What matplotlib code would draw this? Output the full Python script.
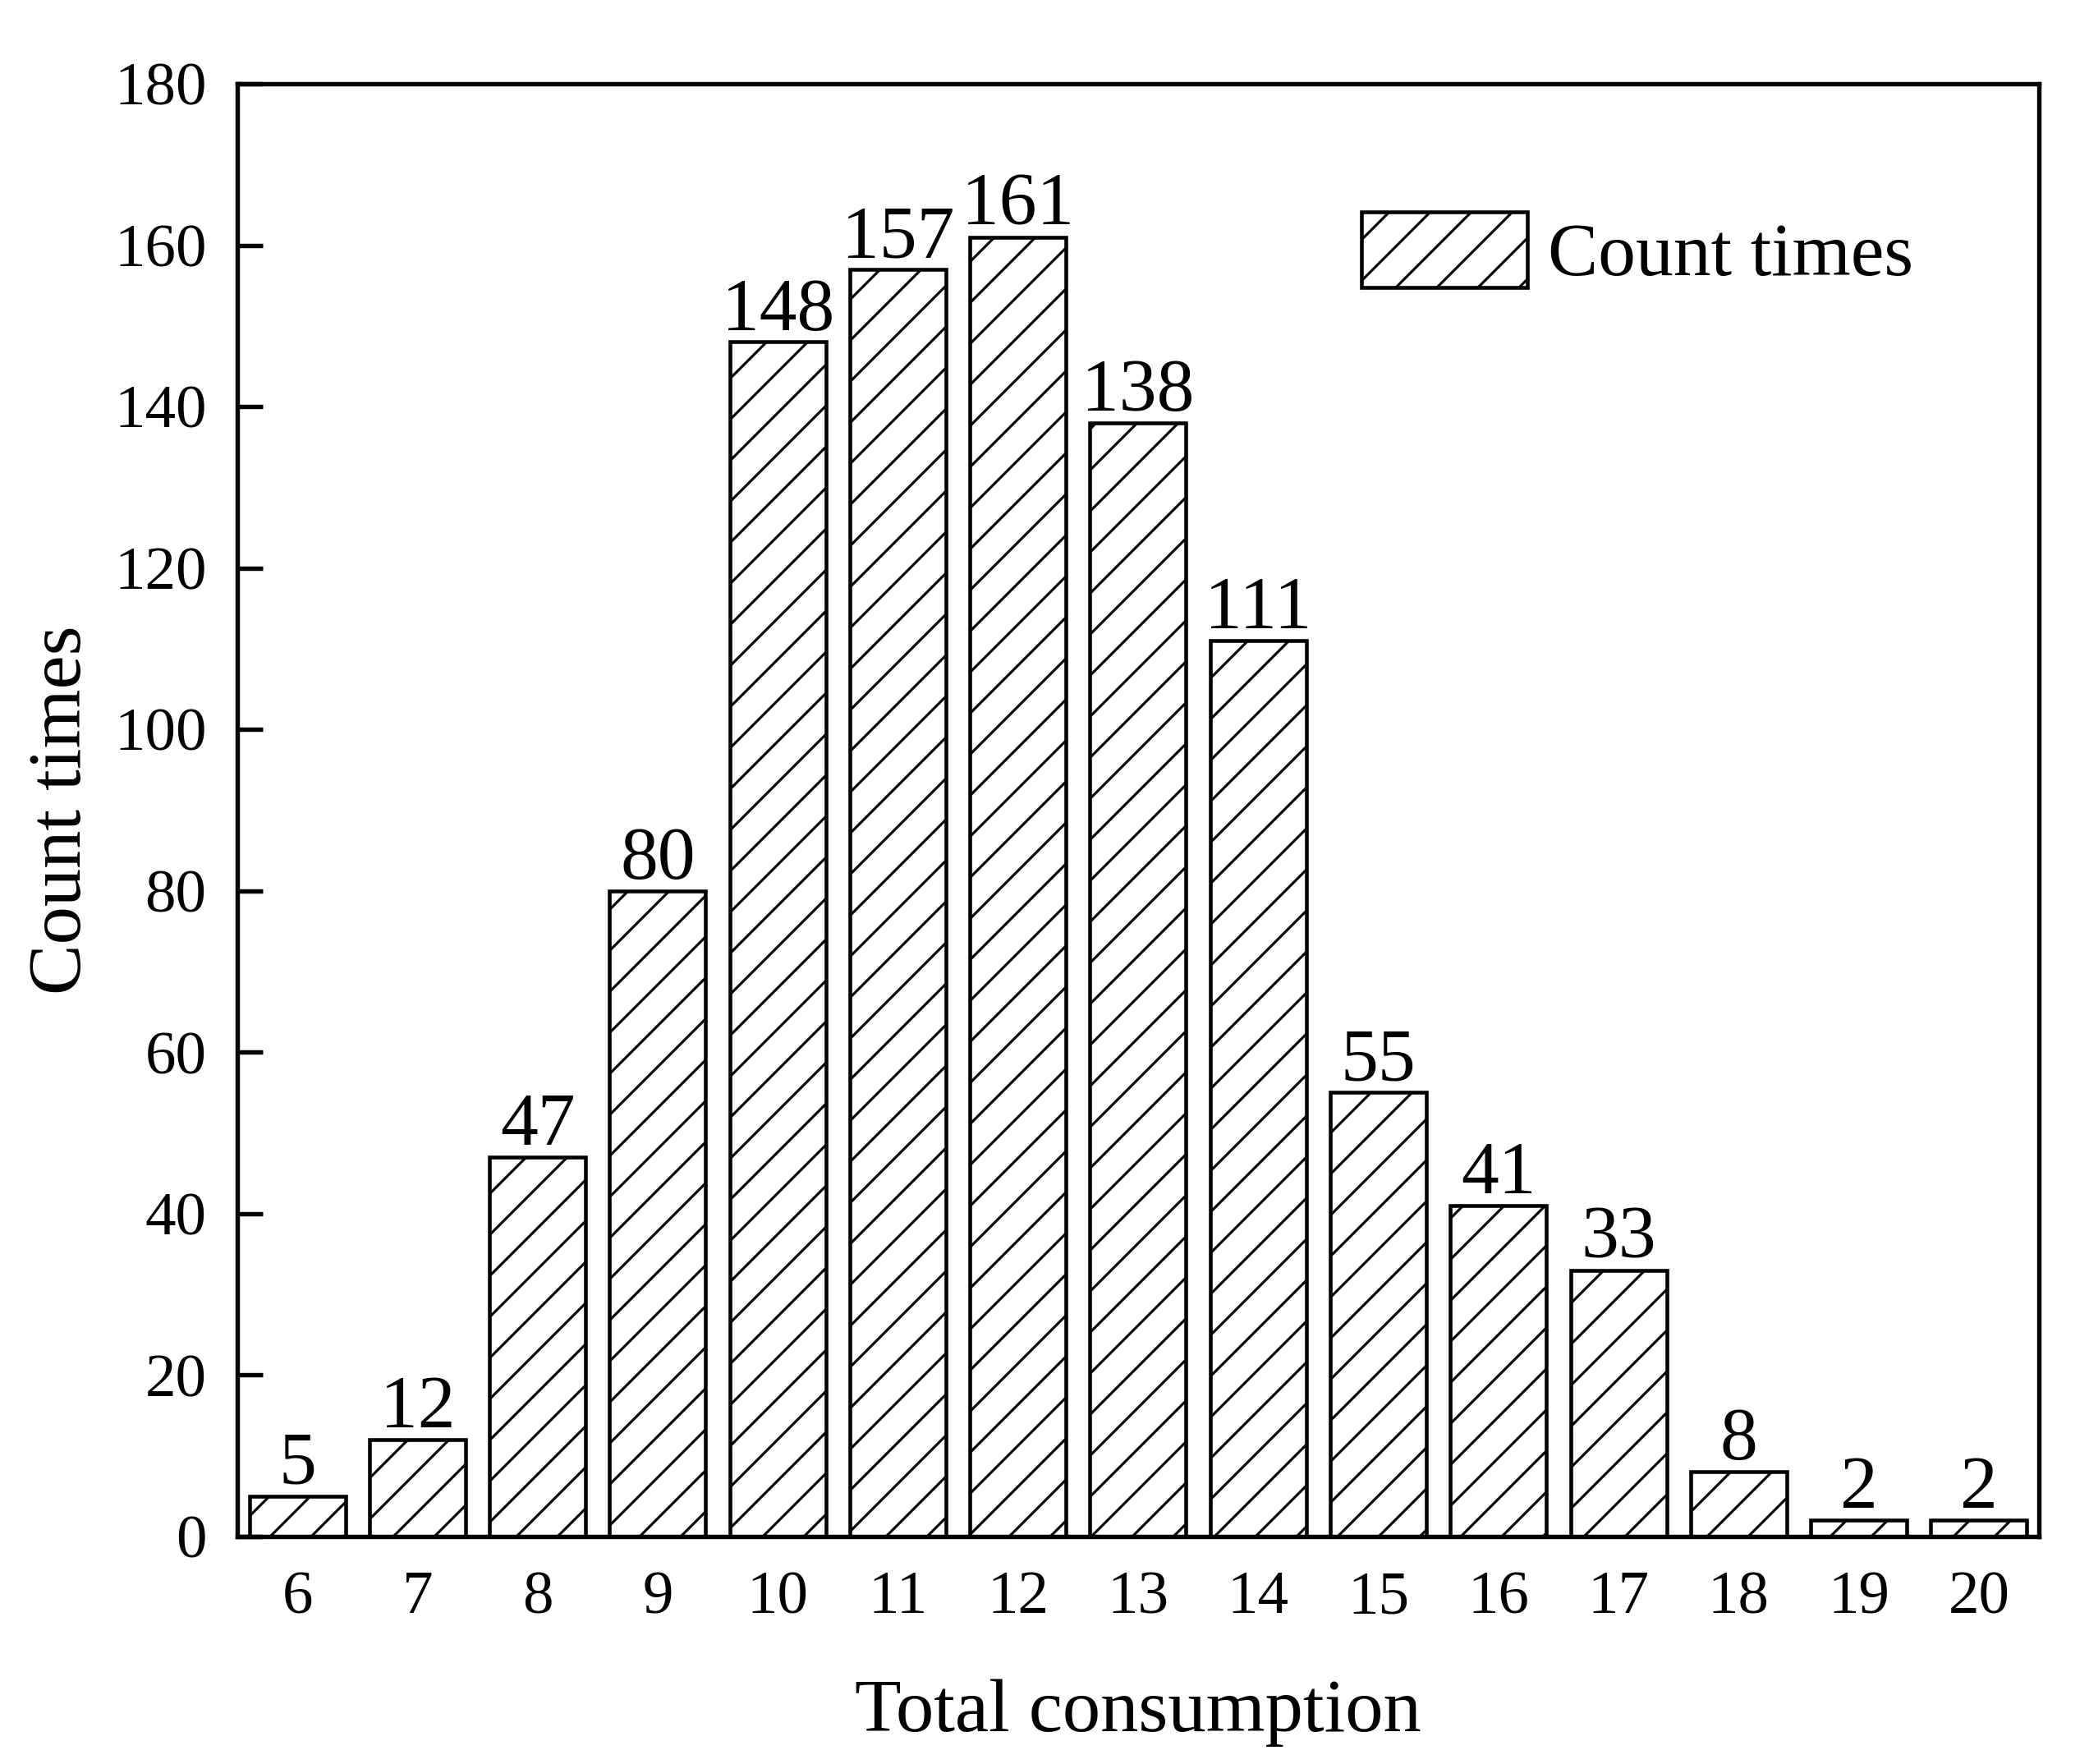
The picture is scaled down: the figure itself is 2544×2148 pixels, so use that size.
import matplotlib
matplotlib.use("Agg")
import matplotlib.pyplot as plt

consumption = [6, 7, 8, 9, 10, 11, 12, 13, 14, 15, 16, 17, 18, 19, 20]
counts = [5, 12, 47, 80, 148, 157, 161, 138, 111, 55, 41, 33, 8, 2, 2]
y_ticks = [0, 20, 40, 60, 80, 100, 120, 140, 160, 180]

plt.rcParams['font.family'] = ['Liberation Serif', 'DejaVu Serif']
plt.rcParams['hatch.linewidth'] = 0.75

fig = plt.figure(figsize=(8.48, 7.16), dpi=300)
ax = fig.add_axes([0.1136, 0.129, 0.8624, 0.8235])

bars = ax.bar(consumption, counts, width=0.8, facecolor='white', edgecolor='black',
              linewidth=1.1, hatch='//', label='Count times')
ax.bar_label(bars, labels=[str(c) for c in counts], padding=-1, fontsize=22)

ax.set_xlim(5.5, 20.5)
ax.set_ylim(0, 180)
ax.set_xticks(consumption)
ax.set_xticklabels([str(c) for c in consumption])
ax.set_yticks(y_ticks)
ax.tick_params(axis='y', direction='in', length=7.5, width=1.3, pad=9, labelsize=18)
ax.tick_params(axis='x', direction='in', length=0, pad=10, labelsize=18)
for s in ax.spines.values():
    s.set_linewidth(1.3)

ax.set_xlabel('Total consumption', fontsize=22.2)
ax.set_ylabel('Count times', fontsize=22.2)
ax.xaxis.set_label_coords(0.5, -0.1215)
ax.xaxis.label.set_va('center')
ax.yaxis.set_label_coords(-0.097, 0.5)
ax.yaxis.label.set_va('center')

ax.legend(loc='upper left', bbox_to_anchor=(0.624, 0.912), frameon=False, fontsize=22,
          handlelength=2.2, handleheight=1.18, handletextpad=0.28, borderpad=0,
          borderaxespad=0)

fig.savefig('out.png', dpi=300)
